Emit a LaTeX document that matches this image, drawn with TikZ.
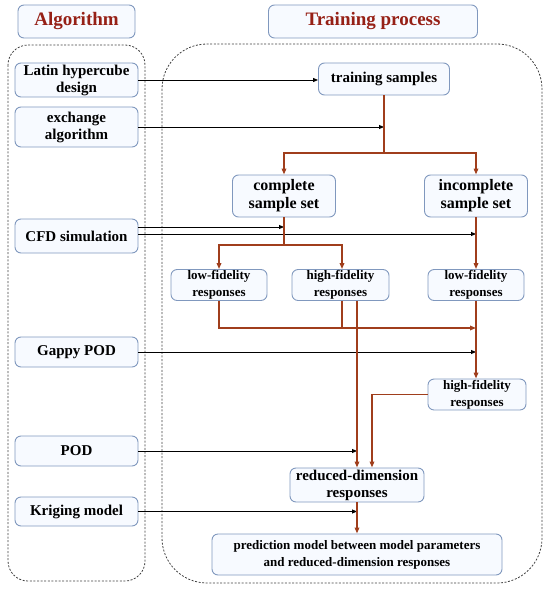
\documentclass[tikz,border=0pt]{standalone}
\usepackage{fontspec}
\setmainfont{Liberation Serif}
\usepackage{tikz}
\usetikzlibrary{arrows.meta,positioning,calc}
\usepackage{xcolor}
\definecolor{boxline}{RGB}{128,152,190}
\definecolor{boxfill}{RGB}{247,250,255}
\definecolor{flowred}{RGB}{160,62,28}
\definecolor{hdred}{RGB}{150,32,22}

\begin{document}
\begin{tikzpicture}[x=1pt,y=-1pt,
    box/.style={draw=boxline,fill=boxfill,rounded corners=6pt,line width=0.9pt,align=center,inner sep=1pt,
      font=\fontsize{15}{17}\selectfont\bfseries},
    sbox/.style={box,font=\fontsize{13}{17}\selectfont\bfseries},
    hdr/.style={box,text=hdred,font=\fontsize{19}{21}\selectfont\bfseries},
    frame/.style={draw=black!75,line width=0.8pt,dash pattern=on 2pt off 1.6pt},
    arr/.style={-{Triangle[length=5pt,width=4pt]},line width=0.9pt,black},
    rline/.style={line width=1.7pt,flowred},
    rarr/.style={rline,-{Triangle[length=6pt,width=4.5pt]}}
]
\useasboundingbox (0,0) rectangle (550,591);
\node[hdr,minimum width=117,minimum height=33] (hdalg) at (76.5,21.5) {Algorithm};
\node[hdr,minimum width=209,minimum height=33] (hdtrain) at (373,21.5) {Training process};
\draw[frame,rounded corners=20pt] (8,45) rectangle (145,581);
\draw[frame,rounded corners=45pt] (162,44) rectangle (542,583);
\node[box,minimum width=123,minimum height=34] (lhd) at (76.5,80) {Latin hypercube\\design};
\node[box,minimum width=123,minimum height=40] (exa) at (76.5,127) {exchange\\algorithm};
\node[box,minimum width=123,minimum height=34] (cfd) at (76.5,236) {CFD simulation};
\node[box,minimum width=123,minimum height=30] (gpod) at (76.5,352) {Gappy POD};
\node[box,minimum width=123,minimum height=30] (pod) at (76.5,451) {POD};
\node[box,minimum width=123,minimum height=29] (krig) at (76.5,511.5) {Kriging model};
\node[box,minimum width=131,minimum height=32] (ts) at (384,79) {training samples};
\node[box,minimum width=103,minimum height=42,font=\fontsize{16}{18}\selectfont\bfseries] (css) at (284,196) {complete\\sample set};
\node[box,minimum width=103,minimum height=42,font=\fontsize{16}{18}\selectfont\bfseries] (iss) at (476,196) {incomplete\\sample set};
\node[sbox,minimum width=96,minimum height=28] (lf1) at (219,285) {low-fidelity\\responses};
\node[sbox,minimum width=97,minimum height=28] (hf1) at (340.5,285) {high-fidelity\\responses};
\node[sbox,minimum width=96,minimum height=28] (lf2) at (476,285) {low-fidelity\\responses};
\node[sbox,minimum width=98,minimum height=27] (hf2) at (477,394.5) {high-fidelity\\responses};
\node[box,minimum width=134,minimum height=34] (rdr) at (357,485) {reduced-dimension\\responses};
\node[sbox,minimum width=290,minimum height=41] (pm) at (357,554.5) {prediction model between model parameters\\and reduced-dimension responses};
\coordinate (split1) at (ts.south |- 0,153);
\coordinate (split2) at (css.south |- 0,245);
\coordinate (merge) at (lf2.south |- 0,328);
\draw[arr] (lhd.east) -- (lhd.east -| ts.west);
\draw[arr] (exa.east) -- (exa.east -| ts.south);
\draw[arr] (cfd.east |- 0,227) -- (css.south |- 0,227);
\draw[arr] (cfd.east |- 0,234) -- (iss.south |- 0,234);
\draw[arr] (gpod.east) -- (gpod.east -| lf2.south);
\draw[arr] (pod.east) -- (pod.east -| rdr.north);
\draw[arr] (krig.east) -- (krig.east -| rdr.south);
\draw[rline] (ts.south) -- (split1);
\draw[rarr] (split1) -| (css.north);
\draw[rarr] (split1) -| (iss.north);
\draw[rline] (css.south) -- (split2);
\draw[rarr] (split2) -| (lf1.north);
\draw[rarr] (split2) -| ([xshift=1.5pt]hf1.north);
\draw[rarr] (iss.south) -- (iss.south |- lf2.north);
\draw[rarr] (lf1.south) |- (merge);
\draw[rline] ([xshift=1.5pt]hf1.south) -- ([xshift=1.5pt]hf1.south |- merge);
\draw[rarr] (hf1.south -| rdr.north) -- (rdr.north);
\draw[rarr] (lf2.south) -- (lf2.south |- hf2.north);
\draw[rarr] (hf2.west) -| ([xshift=15pt]rdr.north);
\draw[rarr] (rdr.south) -- (pm.north);
\end{tikzpicture}
\end{document}
